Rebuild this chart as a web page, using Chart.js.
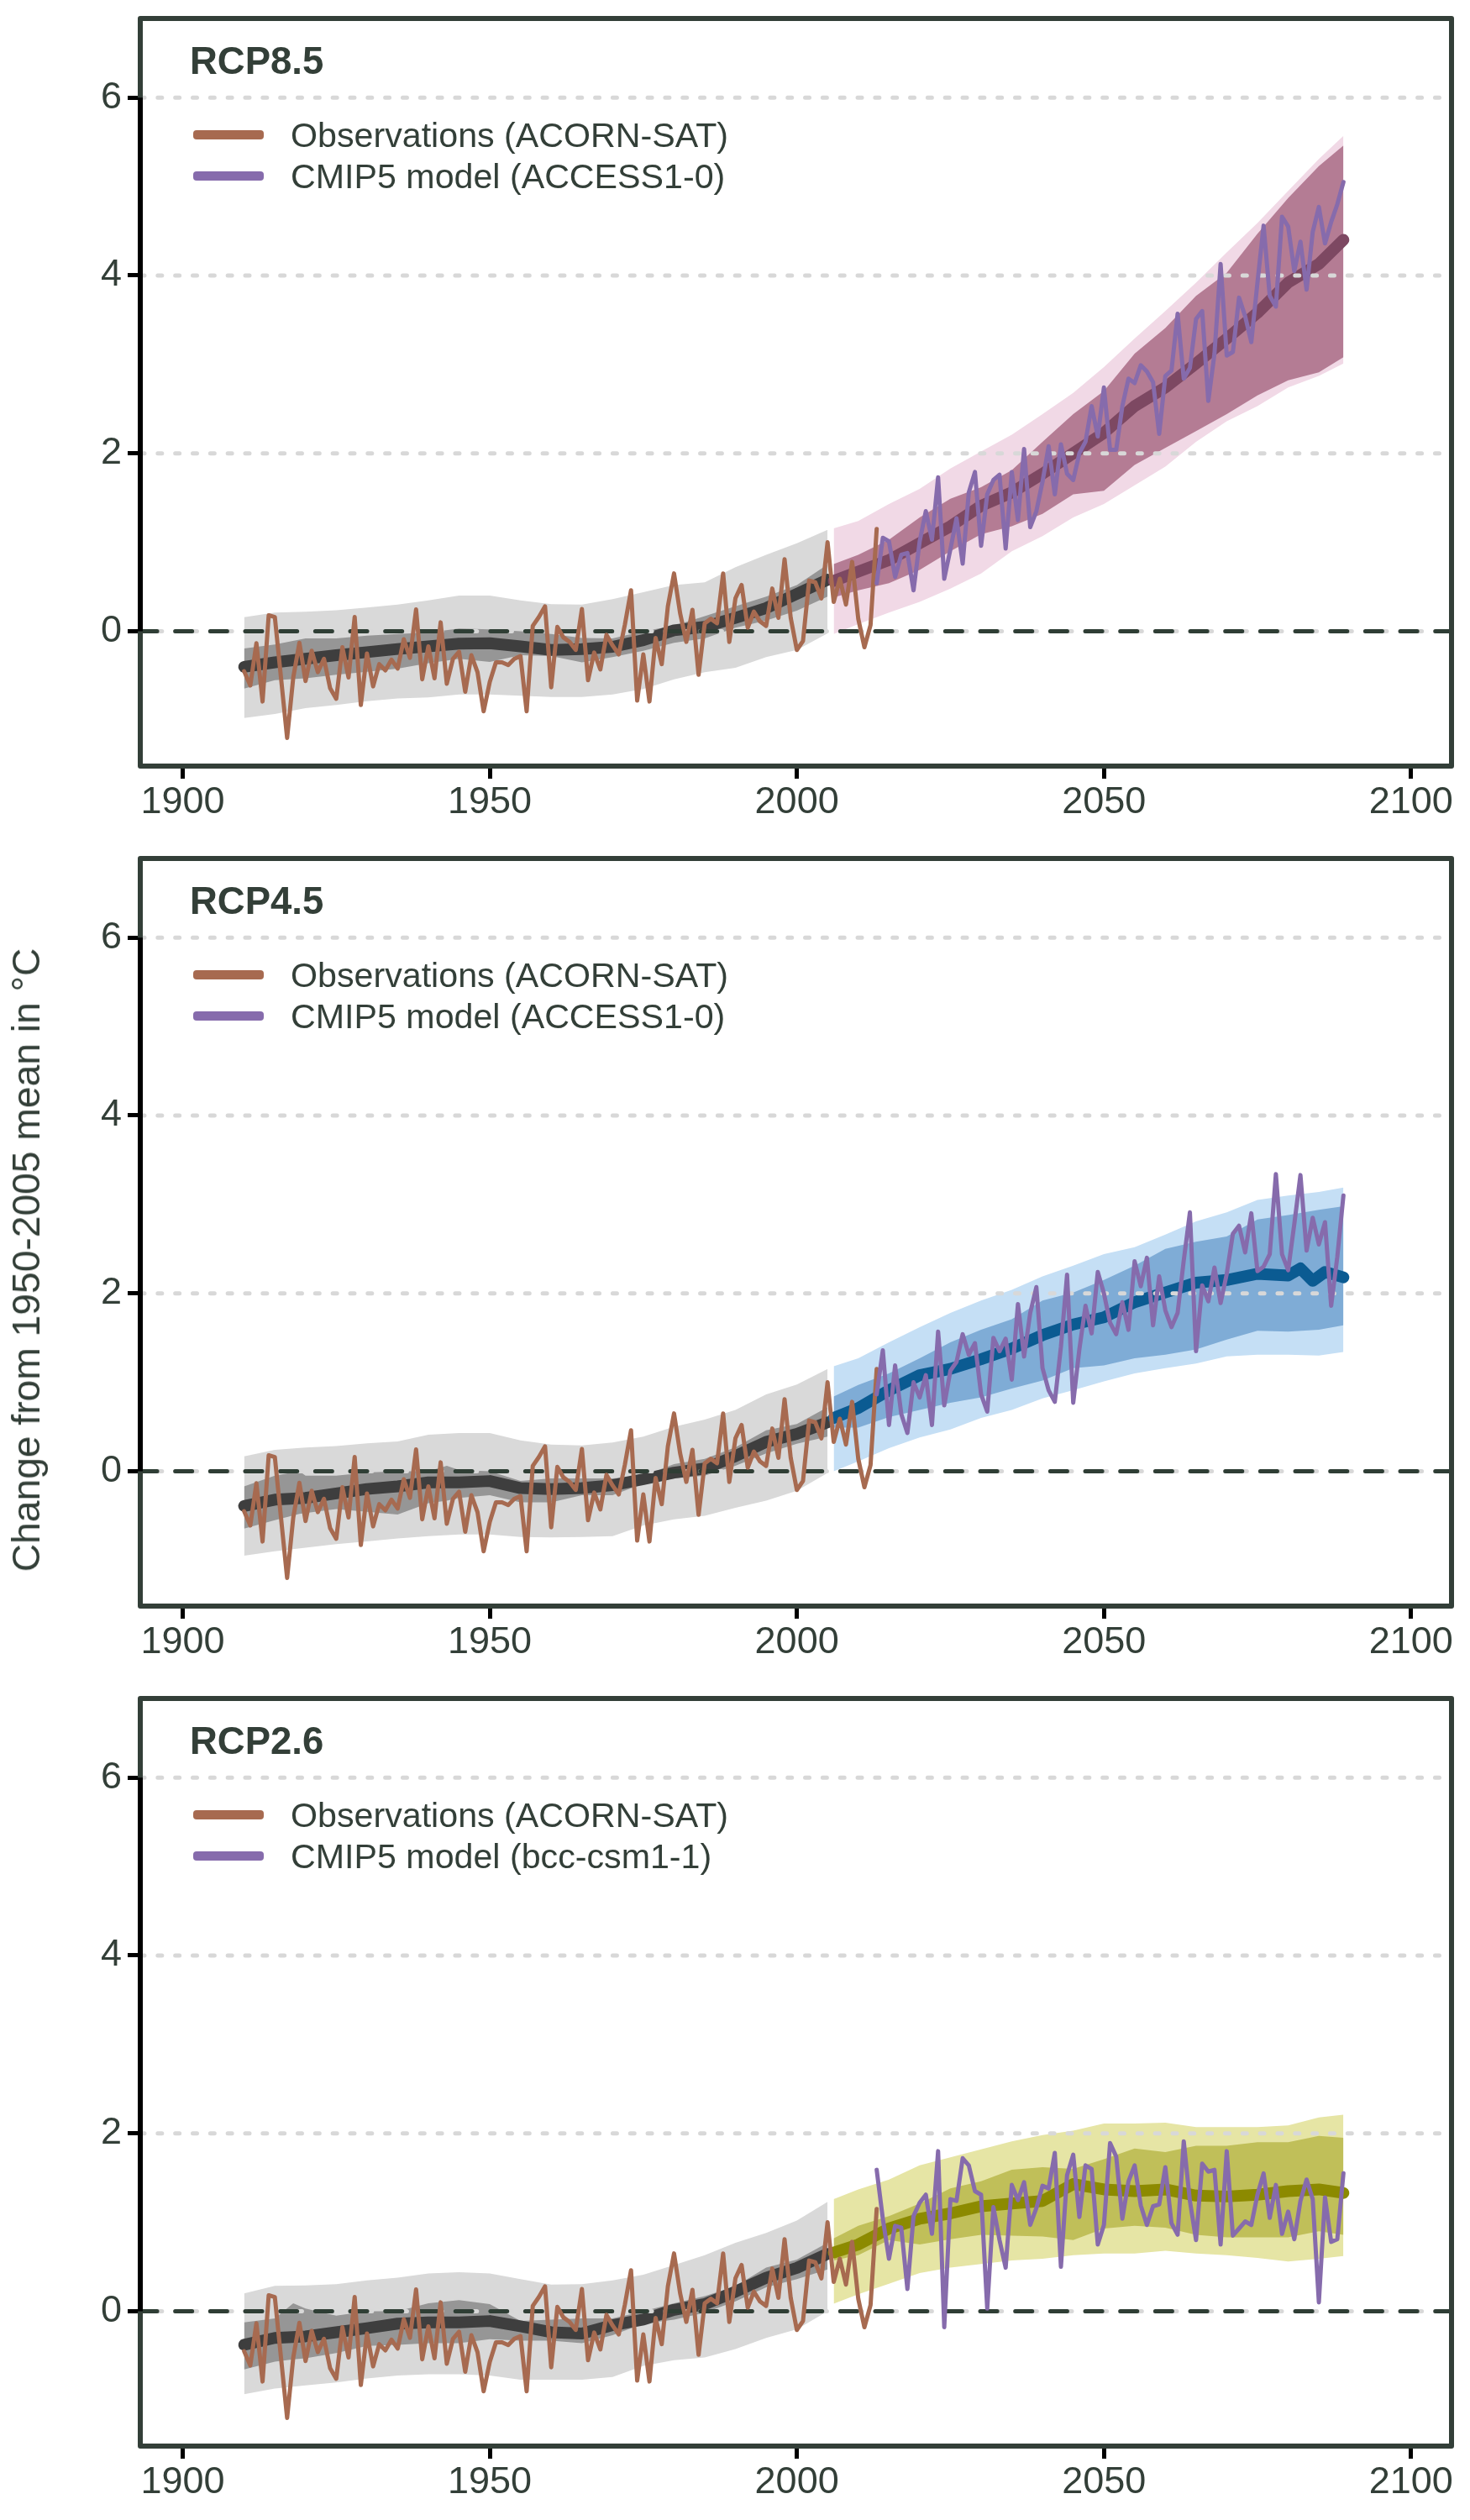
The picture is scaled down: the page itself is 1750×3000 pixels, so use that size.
<!DOCTYPE html>
<html><head><meta charset="utf-8">
<script src="https://cdn.jsdelivr.net/npm/chart.js@4"></script>
<style>
html,body{margin:0;padding:0;background:#fff;width:1750px;height:3000px;overflow:hidden}
canvas{position:absolute;left:0}
.t{position:absolute;white-space:nowrap;color:#333f38;font-family:"Liberation Sans",Arial,sans-serif;z-index:2}
.title{font-weight:bold;font-size:45.5px;line-height:50px;left:226px}
.leg{font-size:41.2px;line-height:46px;left:346px}
.sw{position:absolute;left:230px;width:84px;height:11px;border-radius:4px;z-index:2}
#ylab{font-size:46.2px;line-height:50px;transform:translate(-50%,-50%) rotate(-90deg);left:31px;top:1500px}
</style></head><body>
<div id="root"></div>
<script>
const xTicks=[1900,1950,2000,2050,2100];
const yTicks=[0,2,4,6];
const yGrid=[0,2,4,6];
const panelNames=['RCP8.5','RCP4.5','RCP2.6'];
const modelNames=['ACCESS1-0','ACCESS1-0','bcc-csm1-1'];
const obsYears=Array.from({length:104},(_,i)=>1910+i);
const modelYears=Array.from({length:77},(_,i)=>2013+i);
const histYears=[1910,1915,1920,1925,1930,1935,1940,1945,1950,1955,1960,1965,1970,1975,1980,1985,1990,1995,2000,2005];
const futYears=[2006,2010,2015,2020,2025,2030,2035,2040,2045,2050,2055,2060,2065,2070,2075,2080,2085,2089];
const observations=[-.45,-.61,-.135,-.79,.18,.16,-.52,-1.2,-.52,-.13,
-.56,-.22,-.46,-.31,-.64,-.76,-.18,-.52,.16,-.83,
-.25,-.62,-.37,-.44,-.32,-.42,-.09,-.3,.245,-.54,
-.17,-.53,.10,-.59,-.31,-.23,-.68,-.27,-.46,-.9,
-.57,-.35,-.35,-.38,-.31,-.28,-.9,.06,.16,.28,
-.63,.05,-.07,-.12,-.21,.25,-.55,-.24,-.43,-.04,
-.16,-.26,.075,.46,-.78,-.26,-.79,-.075,-.37,.28,
.65,.2,-.12,.24,-.49,.09,.14,.09,.65,-.12,
.37,.52,.04,.22,.11,.06,.48,.15,.81,.15,
-.21,-.11,.57,.55,.37,1.0,.33,.59,.3,.78,
.14,-.18,.07,1.15];

// RCP8.5
const h85OuterHi=[.157,.21,.22,.235,.267,.3,.346,.4,.4,.346,.305,.30,.36,.44,.52,.55,.72,.86,.99,1.14];
const h85OuterLo=[-.975,-.93,-.865,-.83,-.786,-.755,-.745,-.71,-.71,-.725,-.74,-.74,-.71,-.65,-.54,-.46,-.41,-.29,-.21,-.025];
const h85InnerHi=[-.195,-.15,-.08,-.08,-.05,-.03,-.015,.03,.02,0,-.03,-.075,-.08,0,.06,.17,.28,.39,.52,.75];
const h85InnerLo=[-.645,-.55,-.53,-.49,-.456,-.42,-.36,-.31,-.346,-.27,-.28,-.35,-.29,-.22,-.13,-.08,.04,.12,.23,.39];
const h85Mean=[-.40,-.35,-.31,-.27,-.235,-.2,-.17,-.14,-.135,-.17,-.21,-.2,-.175,-.1,.01,.05,.15,.26,.42,.58];
const f85OuterHi=[1.156,1.24,1.43,1.6,1.83,2.02,2.21,2.44,2.68,2.97,3.29,3.6,3.92,4.26,4.59,4.95,5.31,5.57];
const f85OuterLo=[-.03,.08,.21,.33,.48,.65,.9,1.07,1.28,1.43,1.64,1.85,2.13,2.36,2.53,2.74,2.87,3.01];
const f85InnerHi=[.755,.86,1.03,1.28,1.49,1.62,1.81,2.13,2.44,2.7,3.12,3.41,3.77,4.03,4.47,4.87,5.23,5.46];
const f85InnerLo=[.38,.46,.54,.69,.9,1.09,1.18,1.32,1.54,1.58,1.87,2.06,2.25,2.44,2.65,2.82,2.91,3.08];
const f85Mean=[.565,.67,.8,.99,1.18,1.41,1.56,1.77,2.0,2.23,2.53,2.74,3.01,3.29,3.58,3.92,4.13,4.4];
const model85=[.54,1.05,1.01,.61,.86,.88,.46,1.01,1.35,1.03,1.73,.59,.92,1.27,.76,1.56,1.79,.96,1.54,1.70,1.76,.93,1.79,1.25,2.05,1.17,1.35,1.68,2.08,1.54,2.10,1.77,1.70,2.0,2.13,2.53,2.19,2.74,2.04,2.04,2.53,2.84,2.79,2.99,2.92,2.80,2.22,2.87,2.93,3.57,2.84,2.96,3.51,3.6,2.59,3.12,4.13,3.10,3.14,3.75,3.54,3.25,3.92,4.56,3.77,3.65,4.66,4.55,4.05,4.38,3.84,4.49,4.77,4.36,4.6,4.8,5.05];

// RCP4.5
const h45InnerYears=[1910,1915,1919,1920,1925,1930,1935,1940,1943,1945,1950,1955,1960,1965,1970,1975,1980,1985,1990,1995,2000,2005];
const h45OuterHi=[.167,.24,.267,.283,.314,.336,.41,.43,.43,.346,.3,.29,.324,.39,.5,.58,.69,.865,.975,1.15];
const h45OuterLo=[-.95,-.9,-.86,-.82,-.79,-.755,-.73,-.71,-.71,-.74,-.745,-.74,-.73,-.61,-.54,-.5,-.41,-.33,-.22,-.02];
const h45InnerHi=[-.17,-.05,0,-.05,-.05,-.015,0,0,.06,.015,0,-.11,-.08,-.08,-.08,-.05,.08,.14,.27,.46,.53,.72];
const h45InnerLo=[-.645,-.55,-.48,-.47,-.425,-.456,-.487,-.36,-.33,-.3,-.27,-.35,-.35,-.27,-.27,-.14,-.08,-.05,.06,.2,.31,.39];
const h45Mean=[-.39,-.32,-.3,-.25,-.2,-.17,-.125,-.125,-.11,-.19,-.2,-.19,-.157,-.09,-.016,.03,.17,.33,.42,.55];
const f45OuterHi=[1.18,1.27,1.45,1.62,1.78,1.92,2.04,2.19,2.31,2.44,2.52,2.66,2.81,2.91,3.05,3.1,3.14,3.19];
const f45OuterLo=[0,.11,.26,.38,.47,.6,.69,.82,.91,1.01,1.1,1.16,1.21,1.29,1.31,1.31,1.3,1.34];
const f45InnerHi=[.84,.97,1.1,1.27,1.45,1.59,1.71,1.92,2.01,2.15,2.31,2.5,2.58,2.64,2.83,2.88,2.94,2.98];
const f45InnerLo=[.49,.49,.61,.69,.77,.83,.93,1.02,1.16,1.19,1.27,1.31,1.37,1.48,1.58,1.57,1.59,1.64];
const f45MeanYears=[2006,2010,2015,2020,2025,2030,2035,2040,2045,2050,2055,2060,2065,2070,2075,2080,2082,2084,2086,2089];
const f45Mean=[.6,.71,.91,1.08,1.15,1.26,1.38,1.53,1.65,1.73,1.9,2.01,2.12,2.15,2.22,2.2,2.28,2.14,2.24,2.18];
const model45=[.865,1.36,.52,1.19,.645,.43,1.0,.83,1.08,.52,1.57,.74,1.13,1.23,1.54,1.31,1.44,.865,.67,1.5,1.35,1.49,1.03,1.88,1.29,1.78,2.07,1.16,.91,.78,1.4,2.21,.77,1.37,1.86,1.55,2.24,2.0,1.67,1.54,1.9,1.59,2.36,2.08,2.4,1.64,2.19,1.81,1.62,1.78,2.37,2.91,1.35,2.09,1.91,2.29,1.89,2.22,2.67,2.76,2.46,2.9,2.25,2.3,2.44,3.34,2.44,2.26,2.78,3.33,2.48,2.85,2.55,2.8,1.86,2.41,3.1];

// RCP2.6
const h26InnerYears=[1910,1915,1918,1920,1925,1930,1935,1940,1945,1950,1955,1960,1965,1970,1975,1980,1985,1990,1995,2000,2005];
const h26OuterHi=[.2,.285,.29,.305,.346,.377,.425,.44,.425,.36,.3,.305,.346,.41,.52,.63,.77,.88,1.02,1.23];
const h26OuterLo=[-.934,-.87,-.833,-.8,-.755,-.723,-.708,-.708,-.723,-.77,-.77,-.77,-.74,-.613,-.55,-.52,-.425,-.3,-.204,0];
const h26InnerHi=[-.126,-.08,.09,.03,-.05,0,0,.09,.125,.08,-.11,-.095,-.08,-.08,0,.09,.17,.28,.49,.58,.77];
const h26InnerLo=[-.654,-.566,-.54,-.528,-.47,-.39,-.377,-.36,-.36,-.314,-.33,-.33,-.36,-.27,-.14,-.094,-.016,.11,.27,.36,.47];
const h26Mean=[-.377,-.3,-.283,-.236,-.19,-.14,-.126,-.126,-.11,-.17,-.236,-.25,-.157,-.094,.016,.08,.22,.377,.487,.645];
const f26OuterHi=[1.26,1.37,1.48,1.64,1.73,1.82,1.91,1.98,2.03,2.11,2.11,2.12,2.07,2.07,2.07,2.09,2.18,2.21];
const f26OuterLo=[.085,.19,.31,.43,.49,.53,.57,.59,.63,.65,.65,.68,.65,.63,.6,.56,.59,.62];
const f26InnerHi=[.82,.96,1.07,1.21,1.38,1.46,1.59,1.62,1.6,1.71,1.83,1.79,1.86,1.86,1.9,1.9,1.97,1.95];
const f26InnerLo=[.57,.63,.8,.75,.81,.86,.85,.84,.8,.93,.96,.94,.86,.83,.83,.83,.9,.86];
const f26Mean=[.66,.75,.93,1.04,1.1,1.18,1.21,1.24,1.43,1.37,1.35,1.37,1.3,1.29,1.31,1.35,1.37,1.33];
const model26=[1.59,1.04,.59,.96,.94,.25,1.07,1.22,1.31,.87,1.8,-.18,1.26,1.24,1.72,1.64,1.35,1.31,.03,1.17,.8,.49,1.42,1.25,1.45,.97,1.16,1.41,1.38,1.78,.5,1.53,1.76,1.06,1.64,1.6,.75,.97,1.89,1.74,1.04,1.46,1.64,1.19,.97,1.18,1.2,1.62,.99,.86,1.91,1.24,.8,1.66,1.57,1.59,.75,1.8,.85,.93,1.01,.97,1.31,1.55,1.05,1.42,.87,1.12,.81,1.24,1.48,1.26,.1,1.28,.78,.81,1.55];

const xMin=1893.09,xMax=2106.6,yMin=-1.516,yMax=6.889;
const COL={obs:'#a76a50',model:'#866bac',grid:'#d8d8d8',zero:'#2f3e35',frame:'#333f38',hOuter:'#d9d9d9',hInner:'#969696',hMean:'#3e3e3e'};
const futCols=[{o:'#f1d9e6',i:'#b47c94',m:'#7d4862'},{o:'#c5dff5',i:'#7facd6',m:'#0b5b92'},{o:'#e6e5a5',i:'#c0bf59',m:'#8c8a00'}];
const xy=(xs,ys)=>xs.map((x,i)=>({x,y:ys[i]}));
const base={pointRadius:0,pointHoverRadius:0,tension:0,spanGaps:true};
const band=(label,xs,hi,lo,col,order)=>[
 {...base,label:label+' upper',data:xy(xs,hi),borderWidth:0,borderColor:col,backgroundColor:col,fill:'+1',order:order+1},
 {...base,label:label+' lower',data:xy(xs,lo),borderWidth:0,borderColor:col,backgroundColor:col,fill:false,order:order}];
const line=(label,data,col,w,order,extra)=>({...base,label,data,borderColor:col,borderWidth:w,fill:false,order,borderCapStyle:'round',borderJoinStyle:'round',...extra});

const panelData=[
 {hi:{outerX:histYears,oh:h85OuterHi,ol:h85OuterLo,innerX:histYears,ih:h85InnerHi,il:h85InnerLo,m:h85Mean},
  f:{oh:f85OuterHi,ol:f85OuterLo,ih:f85InnerHi,il:f85InnerLo,mX:futYears,m:f85Mean},model:model85},
 {hi:{outerX:histYears,oh:h45OuterHi,ol:h45OuterLo,innerX:h45InnerYears,ih:h45InnerHi,il:h45InnerLo,m:h45Mean},
  f:{oh:f45OuterHi,ol:f45OuterLo,ih:f45InnerHi,il:f45InnerLo,mX:f45MeanYears,m:f45Mean},model:model45},
 {hi:{outerX:histYears,oh:h26OuterHi,ol:h26OuterLo,innerX:h26InnerYears,ih:h26InnerHi,il:h26InnerLo,m:h26Mean},
  f:{oh:f26OuterHi,ol:f26OuterLo,ih:f26InnerHi,il:f26InnerLo,mX:futYears,m:f26Mean},model:model26}];

const framePlugin={id:'frame',afterDatasetsDraw(c){
 const a=c.chartArea,g=c.ctx;
 g.save();
 g.strokeStyle=COL.frame;g.lineWidth=6;g.lineJoin='round';
 g.strokeRect(a.left,a.top,a.right-a.left,a.bottom-a.top);
 g.strokeStyle='#000';g.lineCap='butt';g.beginPath();
 g.moveTo(a.left,c.scales.y.getPixelForValue(yTicks[yTicks.length-1]));
 g.lineTo(a.left,c.scales.y.getPixelForValue(yTicks[0]));g.stroke();
 g.restore();
}};

const root=document.getElementById('root');
const PANEL_H=1000;
panelData.forEach((p,idx)=>{
 const off=idx*PANEL_H;
 const cv=document.createElement('canvas');
 cv.width=1750;cv.height=PANEL_H;cv.style.top=off+'px';cv.style.width='1750px';cv.style.height=PANEL_H+'px';
 root.appendChild(cv);
 const fc=futCols[idx];
 const ds=[
  ...band('Historical outer',p.hi.outerX,p.hi.oh,p.hi.ol,COL.hOuter,40),
  ...band('Historical inner',p.hi.innerX,p.hi.ih,p.hi.il,COL.hInner,37),
  line('Historical mean',xy(histYears,p.hi.m),COL.hMean,14,35),
  ...band('Projection outer',futYears,p.f.oh,p.f.ol,fc.o,32),
  ...band('Projection inner',futYears,p.f.ih,p.f.il,fc.i,29),
  line('Projection mean',xy(p.f.mX,p.f.m),fc.m,14,27),
  ...yGrid.map((v,i)=>line('grid '+v,[{x:xMin,y:v},{x:xMax,y:v}],COL.grid,5,20-i,{borderDash:[5,15.83]})),
  line('zero',[{x:xMin,y:0},{x:xMax,y:0}],COL.zero,5,10,{borderDash:[20,21.67]}),
  line('Observations (ACORN-SAT)',xy(obsYears,observations),COL.obs,5,5),
  line('CMIP5 model ('+modelNames[idx]+')',xy(modelYears,p.model),COL.model,5,4)
 ];
 new Chart(cv,{type:'line',data:{datasets:ds},plugins:[framePlugin],options:{
  responsive:false,animation:false,devicePixelRatio:1,
  events:[],
  layout:{padding:{left:0,top:22,right:22,bottom:0}},
  plugins:{legend:{display:false},tooltip:{enabled:false},title:{display:false}},
  scales:{
   x:{type:'linear',min:xMin,max:xMax,
    afterBuildTicks(s){s.ticks=xTicks.map(value=>({value}));},
    afterFit(s){s.height=PANEL_H-912;s.paddingLeft=0;s.paddingRight=0;},
    border:{display:false},
    grid:{drawOnChartArea:false,drawTicks:true,tickLength:15,tickWidth:5,tickColor:'#000'},
    ticks:{color:COL.frame,font:{family:'"Liberation Sans"',size:45},padding:2,maxRotation:0,autoSkip:false,callback:v=>String(v)}},
   y:{type:'linear',min:yMin,max:yMax,
    afterBuildTicks(s){s.ticks=yTicks.map(value=>({value}));},
    afterFit(s){s.width=167;s.paddingTop=0;s.paddingBottom=0;},
    border:{display:false},
    grid:{drawOnChartArea:false,drawTicks:true,tickLength:15,tickWidth:5,tickColor:'#000'},
    ticks:{color:COL.frame,font:{family:'"Liberation Sans"',size:45},padding:7,autoSkip:false,callback:v=>String(v)}}
  }}});
 // panel label and key
 const add=(cls,text,top)=>{const d=document.createElement('div');d.className='t '+cls;d.textContent=text;d.style.top=(off+top)+'px';root.appendChild(d);};
 add('title',panelNames[idx],48);
 add('leg','Observations (ACORN-SAT)',138);
 add('leg','CMIP5 model ('+modelNames[idx]+')',187);
 [[COL.obs,155],[COL.model,204]].forEach(([c,t])=>{const s=document.createElement('div');s.className='sw';s.style.background=c;s.style.top=(off+t)+'px';root.appendChild(s);});
});
const yl=document.createElement('div');yl.id='ylab';yl.className='t';yl.textContent='Change from 1950-2005 mean in °C';root.appendChild(yl);
</script>
</body></html>
